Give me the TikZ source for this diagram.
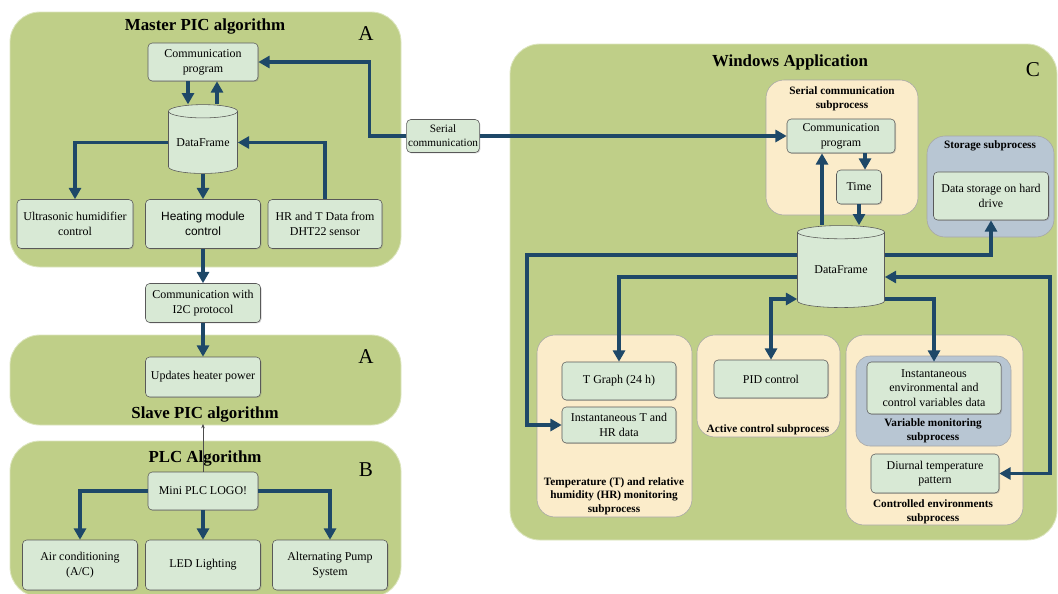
\documentclass[tikz,border=0pt]{standalone}
\usepackage{fontspec}
\setmainfont{Liberation Serif}
\newfontfamily\arialfont{Liberation Sans}
\usetikzlibrary{shapes.geometric,arrows.meta,shadows}
\definecolor{panelgreen}{RGB}{191,207,136}
\definecolor{boxgreen}{RGB}{216,233,213}
\definecolor{cream}{RGB}{251,236,202}
\definecolor{slate}{RGB}{184,198,211}
\definecolor{arrowblue}{RGB}{30,72,104}
\newcommand{\bxfont}{\fontsize{8.5}{10.5}\selectfont}
\begin{document}
\begin{tikzpicture}[x=0.025cm,y=-0.025cm,
    panel/.style={fill=panelgreen,draw=panelgreen!55!white,line width=0.6pt,rounded corners=0.75cm},
    sub/.style={fill=cream,draw=gray!70,rounded corners=0.45cm},
    box/.style={draw=gray!70!black,fill=boxgreen,rounded corners=3pt,align=center,font=\bxfont,inner sep=1pt,
      drop shadow={shadow xshift=0.7pt,shadow yshift=-0.7pt,opacity=0.35}},
    db/.style={cylinder,shape border rotate=90,aspect=0.25,draw=gray!70!black,cylinder uses custom fill,
      cylinder body fill=boxgreen,cylinder end fill=boxgreen,font=\bxfont,inner sep=0pt},
    arr/.style={draw=arrowblue,line width=2.5pt,-{Triangle[length=8pt,width=8.5pt]}},
    ttl/.style={font=\bfseries\fontsize{12}{14}\selectfont},
    tag/.style={font=\fontsize{15}{17}\selectfont},
    stl/.style={font=\bfseries\fontsize{8}{9.6}\selectfont,align=center}]
  \useasboundingbox (0,0) rectangle (1058,593);
  % panels
  \draw [panel] (10,12) rectangle (401,267);
  \draw [panel] (10,335) rectangle (401,425);
  \draw [panel] (10,441) rectangle (401,597);
  \draw [panel] (510,44) rectangle (1057,540);
  \draw [sub] (766,80) rectangle (918,215);
  \draw [sub,fill=slate] (927,136) rectangle (1054,237);
  \draw [sub] (537,335) rectangle (692,517);
  \draw [sub] (697,335) rectangle (840,437);
  \draw [sub] (846,335) rectangle (1023,525);
  \draw [sub,fill=slate,rounded corners=0.35cm] (856,356) rectangle (1011,446);
  % titles
  \node [ttl] (mastertitle) at (205,27) {Master PIC algorithm};
  \node [tag] (mastertag) at (366,34) {A};
  \node [ttl] (slavetitle) at (205,414) {Slave PIC algorithm};
  \node [tag] (slavetag) at (366,357) {A};
  \node [ttl] (plctitle) at (205,458) {PLC Algorithm};
  \node [tag] (plctag) at (366,470) {B};
  \node [ttl] (wintitle) at (790,62) {Windows Application};
  \node [tag] (wintag) at (1033,70) {C};
  \node [stl] (serialtitle) at (842,99) {Serial communication\\subprocess};
  \node [stl] (storetitle) at (990,146) {Storage subprocess};
  \node [stl] (temptitle) at (614,496) {Temperature (T) and relative\\humidity (HR) monitoring\\subprocess};
  \node [stl] (activetitle) at (768,430) {Active control subprocess};
  \node [stl] (varmontitle) at (933,431) {Variable monitoring\\subprocess};
  \node [stl] (ctrltitle) at (933,512) {Controlled environments\\subprocess};
  % master PIC
  \node [box,minimum width=2.75cm,minimum height=0.95cm] (commM) at (203,62) {Communication\\program};
  \node [db,minimum width=1.725cm,minimum height=1.72cm] (dfM) at (203,142.5) {DataFrame};
  \node [box,minimum width=2.9cm,minimum height=1.225cm] (humid) at (75,224) {Ultrasonic humidifier\\control};
  \node [box,minimum width=2.875cm,minimum height=1.225cm,font=\arialfont\bxfont] (heat) at (203,224) {Heating module\\control};
  \node [box,minimum width=2.85cm,minimum height=1.225cm] (dht) at (325,224) {HR and T Data from\\DHT22 sensor};
  \node [box,minimum width=2.875cm,minimum height=0.975cm] (itwoc) at (203,303) {Communication with\\I2C protocol};
  \node [box,minimum width=2.875cm,minimum height=1.0cm] (heater) at (203,377) {Updates heater power};
  % PLC
  \node [box,minimum width=2.75cm,minimum height=0.95cm] (logo) at (203,491) {Mini PLC LOGO!};
  \node [box,minimum width=2.875cm,minimum height=1.25cm] (aircon) at (80,565) {Air conditioning\\(A/C)};
  \node [box,minimum width=2.875cm,minimum height=1.25cm] (led) at (203,565) {LED Lighting};
  \node [box,minimum width=2.875cm,minimum height=1.25cm] (pump) at (330,565) {Alternating Pump\\System};
  \coordinate (slavebot) at (203,424);
  % windows application
  \node [box,minimum width=1.65cm,minimum height=0.825cm,font=\fontsize{8}{10}\selectfont] (serial) at (443,136) {Serial\\communication};
  \node [box,minimum width=2.7cm,minimum height=0.85cm] (commW) at (841,136) {Communication\\program};
  \node [box,minimum width=1.125cm,minimum height=0.85cm] (time) at (859,187) {Time};
  \node [box,minimum width=2.875cm,minimum height=1.2cm] (store) at (991,196) {Data storage on hard\\drive};
  \node [db,minimum width=2.175cm,minimum height=2.05cm] (dfW) at (841,270) {DataFrame};
  \node [box,minimum width=2.85cm,minimum height=0.95cm] (tgraph) at (619,381) {T Graph (24 h)};
  \node [box,minimum width=2.85cm,minimum height=0.9cm] (instT) at (619,425) {Instantaneous T and\\HR data};
  \node [box,minimum width=2.85cm,minimum height=0.95cm] (pid) at (771,379) {PID control};
  \node [box,minimum width=3.35cm,minimum height=1.3cm] (instenv) at (934,388) {Instantaneous\\environmental and\\control variables data};
  \node [box,minimum width=3.2cm,minimum height=0.975cm] (diurnal) at (935,473.5) {Diurnal temperature\\pattern};
  % connectors master / slave
  \draw [arr] (commM.south -| 188,0) -- (dfM.north -| 188,0);
  \draw [arr] (dfM.north -| 217,0) -- (commM.south -| 217,0);
  \draw [arr] (dfM.west) -| (humid.north);
  \draw [arr] (dfM.south) -- (heat.north);
  \draw [arr] (dht.north) |- (dfM.east);
  \draw [arr] (heat.south) -- (itwoc.north);
  \draw [arr] (itwoc.south) -- (heater.north);
  \draw [draw=gray!60!black,line width=0.4pt,-{Stealth[length=3pt,width=2.5pt]}] (logo.north) -- (slavebot);
  % connectors PLC
  \draw [arr] (logo.west) -| (aircon.north);
  \draw [arr] (logo.south) -- (led.north);
  \draw [arr] (logo.east) -| (pump.north);
  % serial link
  \draw [arr] (serial.west) -- ++(-37,0) |- (commM.east);
  \draw [arr] (serial.east) -- (serial.east -| commW.west);
  % connectors windows
  \draw [arr] (commW.south -| 865,0) -- (time.north -| 865,0);
  \draw [arr] (time.south) -- (time.south |- dfW.north);
  \draw [arr] (dfW.north -| 822,0) -- (commW.south -| 822,0);
  \draw [arr] (dfW.east |- 0,255) -| (store.south);
  \draw [arr] (dfW.west |- 0,255) -- (527,255) |- (instT.west);
  \draw [arr] (dfW.west |- 0,277) -| (tgraph.north);
  \draw [arr,{Triangle[length=8pt,width=8.5pt]}-{Triangle[length=8pt,width=8.5pt]}] (dfW.west |- 0,299) -| (pid.north);
  \draw [arr] (dfW.east |- 0,299) -| (instenv.north);
  \draw [arr,{Triangle[length=8pt,width=8.5pt]}-{Triangle[length=8pt,width=8.5pt]}] (dfW.east |- 0,277) -- (1050,277) |- (diurnal.east);
\end{tikzpicture}
\end{document}
